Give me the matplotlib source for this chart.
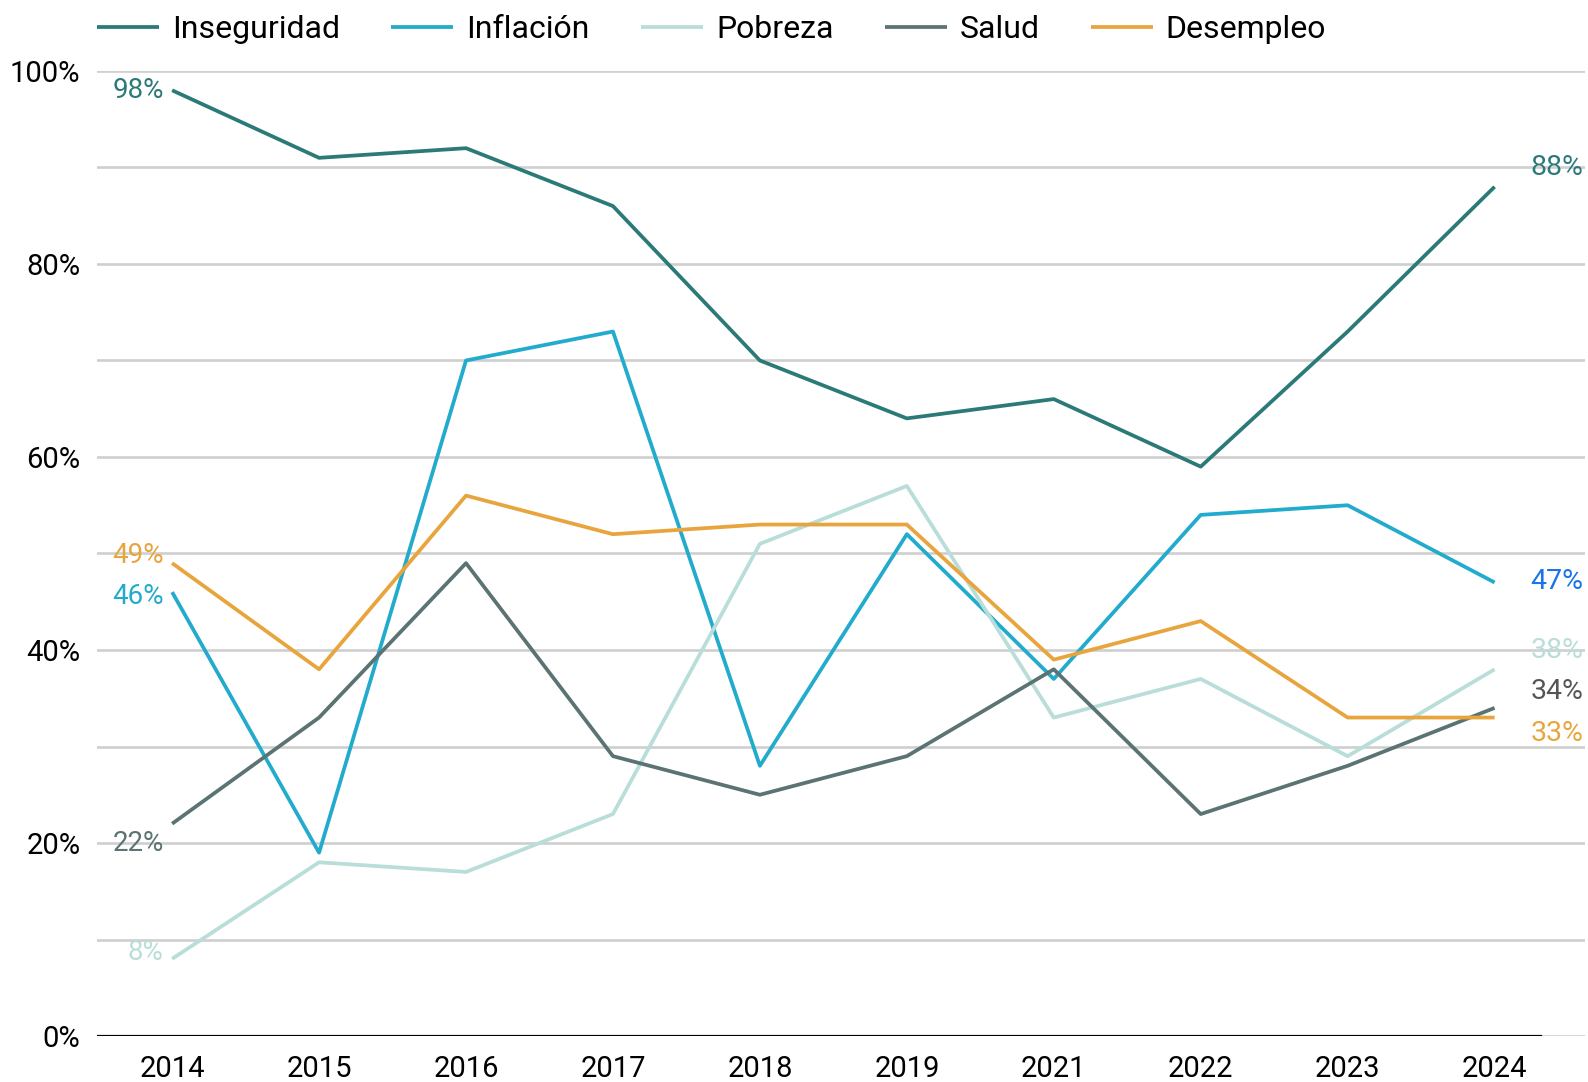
import numpy as np
import matplotlib
matplotlib.use("Agg")
import matplotlib.pyplot as plt

plt.rcParams['font.family'] = ['Roboto', 'DejaVu Sans']

years = ['2014', '2015', '2016', '2017', '2018', '2019', '2021', '2022', '2023', '2024']

inseguridad = [98, 91, 92, 86, 70, 64, 66, 59, 73, 88]
inflacion = [46, 19, 70, 73, 28, 52, 37, 54, 55, 47]
pobreza = [8, 18, 17, 23, 51, 57, 33, 37, 29, 38]
salud = [22, 33, 49, 29, 25, 29, 38, 23, 28, 34]
desempleo = [49, 38, 56, 52, 53, 53, 39, 43, 33, 33]

series = [
    ('Inseguridad', inseguridad, '#2b7a78'),
    ('Inflación', inflacion, '#22abcc'),
    ('Pobreza', pobreza, '#b9ddd9'),
    ('Salud', salud, '#5b7373'),
    ('Desempleo', desempleo, '#e8a53d'),
]

# label nudges (data units) to keep end labels from colliding
left_nudge = {'Inseguridad': 0, 'Inflación': -0.5, 'Pobreza': 0.7, 'Salud': -2, 'Desempleo': 0.8}
right_nudge = {'Inseguridad': 2, 'Inflación': 0.1, 'Pobreza': 2, 'Salud': 1.7, 'Desempleo': -1.7}
right_color = {'Inflación': '#1a73e8', 'Salud': '#555555'}

fig = plt.figure(figsize=(15.88, 10.82), dpi=100)
ax = fig.add_axes([0.0612, 0.0425, 0.9368, 0.8919])

x = np.arange(len(years))
for name, vals, color in series:
    ax.plot(x, vals, color=color, lw=2.7, label=name, solid_capstyle='butt', zorder=3)
    ax.annotate(f'{vals[0]}%', (x[0], vals[0] + left_nudge[name]), xytext=(-6, 0),
                textcoords='offset points', ha='right', va='center',
                fontsize=20, color=color)
    ax.annotate(f'{vals[-1]}%', (x[-1], vals[-1] + right_nudge[name]), xytext=(26, 0),
                textcoords='offset points', ha='left', va='center',
                fontsize=20.5, color=right_color.get(name, color))

ax.set_xlim(-0.51, 9.614)
ax.set_ylim(0, 100)
ax.set_yticks(range(0, 101, 20))
ax.set_yticklabels([f'{v}%' for v in range(0, 101, 20)])
ax.set_yticks(range(10, 101, 10), minor=True)
ax.set_xticks(x)
ax.set_xticklabels(years)
ax.grid(axis='y', which='both', color='#cfcfcf', lw=1.9, zorder=0)
ax.tick_params(axis='both', which='both', length=0, labelsize=21)
ax.tick_params(axis='y', pad=12)
ax.tick_params(axis='x', pad=14)
for s in ax.spines.values():
    s.set_visible(False)
ax.axhline(0, xmin=0, xmax=(9.31 + 0.51) / (9.614 + 0.51), color='black', lw=2.3, zorder=4)

fig.legend(loc='center left', bbox_to_anchor=(0.0612, 0.9725), ncol=5, frameon=False,
           borderpad=0, borderaxespad=0, fontsize=23, handlelength=1.94,
           handletextpad=0.41, columnspacing=1.6)

fig.savefig('out.png', dpi=100)
